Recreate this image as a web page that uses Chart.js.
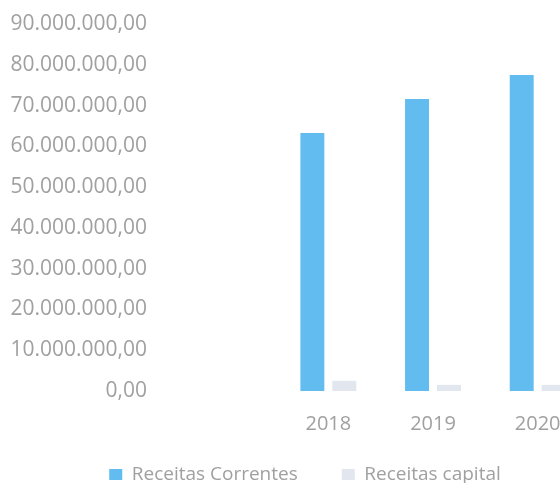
<!DOCTYPE html>
<html><head><meta charset="utf-8">
<script src="https://cdn.jsdelivr.net/npm/chart.js@4.4.0/dist/chart.umd.min.js"></script>
<style>
html,body{margin:0;padding:0;background:#fff;overflow:hidden;width:560px;height:483px;}
#wrap{position:absolute;left:0;top:0;width:600px;height:494px;}
</style></head>
<body>
<div id="wrap"><canvas id="c" width="600" height="494"></canvas></div>
<script>
const categories = ['2018', '2019', '2020'];
const receitasCorrentes = [63300000, 71600000, 77500000];
const receitasCapital = [2500000, 1500000, 1500000];
const seriesNames = ['Receitas Correntes', 'Receitas capital'];
const yTickMin = 0, yTickMax = 90000000, yTickStep = 10000000;

function fmtBR(v) {
  const s = Math.round(v).toString().replace(/\B(?=(\d{3})+(?!\d))/g, '.');
  return s + ',00';
}
const FONT = "'Open Sans', sans-serif";
const CANVAS_H = 494, AREA_BOTTOM = 391;
const noClip = () => undefined;
new Chart(document.getElementById('c'), {
  type: 'bar',
  data: {
    labels: categories,
    datasets: [
      { label: seriesNames[0], data: receitasCorrentes, backgroundColor: '#62bcef',
        categoryPercentage: 0.61, barPercentage: 0.75 },
      { label: seriesNames[1], data: receitasCapital, backgroundColor: 'rgba(200,210,225,0.55)',
        categoryPercentage: 0.61, barPercentage: 0.75 }
    ]
  },
  options: {
    responsive: false,
    animation: false,
    layout: { padding: { top: 24, right: 10, left: 20, bottom: 0 } },
    plugins: {
      legend: {
        position: 'bottom',
        labels: { font: { family: FONT, size: 19 }, color: '#a0a0a0', boxWidth: 13, boxHeight: 11, padding: 44 }
      },
      tooltip: { enabled: false }
    },
    scales: {
      x: {
        grid: { display: false, drawTicks: false },
        border: { display: false },
        ticks: { font: { family: FONT, size: 20 }, color: '#a0a0a0', padding: 21 },
        afterFit: s => {
          const lh = s.chart.legend ? s.chart.legend.height : 0;
          s.height = CANVAS_H - AREA_BOTTOM - lh;
          s.paddingLeft = 0; s.paddingRight = 0;
          s._computeLabelArea = noClip;
        }
      },
      y: {
        min: yTickMin, max: yTickMax,
        grid: { display: false, drawTicks: false },
        border: { display: false },
        ticks: { stepSize: yTickStep, font: { family: FONT, size: 21 }, color: '#a0a0a0', padding: 129,
          callback: v => fmtBR(v) },
        afterFit: s => { s.width = 256; s.paddingTop = 0; s.paddingBottom = 0; s._computeLabelArea = noClip; }
      }
    }
  }
});
</script>
</body></html>
